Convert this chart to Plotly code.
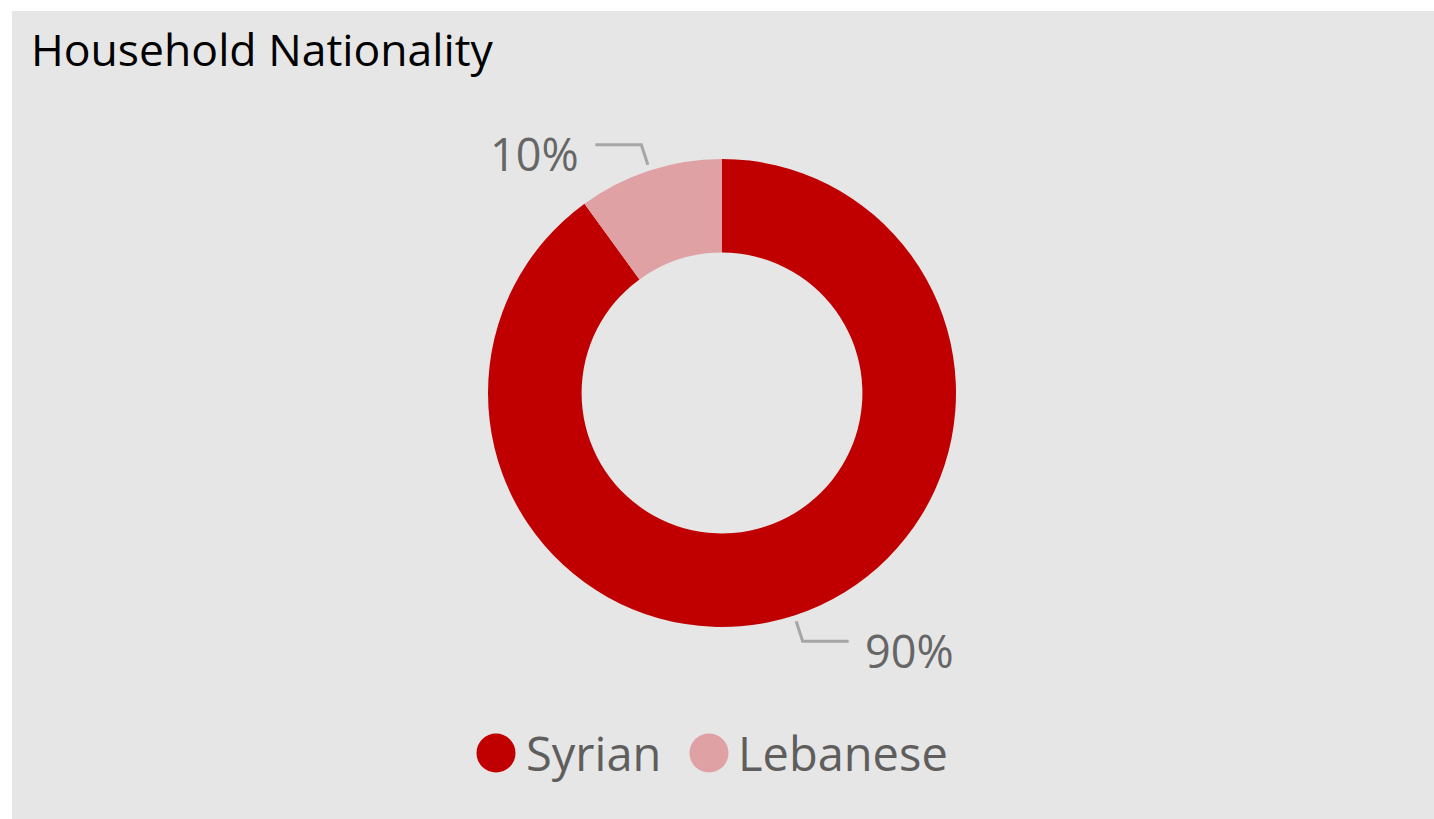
import math
import plotly.graph_objects as go

# Data
categories = ["Syrian", "Lebanese"]
shares = [90, 10]
colors = ["#c00000", "#e0a1a4"]

title_text = "Household Nationality"

W, H = 1434, 819
BG = "#e6e6e6"
FONT = "Open Sans, Noto Sans, sans-serif"

# Donut geometry in pixels
cx, cy, R = 722, 393, 234
hole = 0.6


def px(x):
    return x / W


def py(y):
    return 1 - y / H


fig = go.Figure()
fig.add_trace(go.Pie(
    labels=categories,
    values=shares,
    sort=False,
    direction="clockwise",
    rotation=0,
    hole=hole,
    marker=dict(colors=colors, line=dict(width=0)),
    textinfo="none",
    hoverinfo="label+percent",
    showlegend=False,
    domain=dict(x=[px(cx - R), px(cx + R)], y=[py(cy + R), py(cy - R)]),
))

shapes = []
annotations = []

# Leader lines and percentage labels placed at each slice's mid-angle
total = sum(shares)
start = 0.0
for name, v in zip(categories, shares):
    frac = v / total
    mid = (start + frac / 2) * 2 * math.pi
    start += frac
    s, c = math.sin(mid), math.cos(mid)
    side = 1 if s >= 0 else -1
    x0, y0 = cx + (R + 6) * s, cy - (R + 6) * c
    x1, y1 = cx + (R + 27) * s, cy - (R + 27) * c
    x2 = x1 + side * 46
    shapes.append(dict(
        type="path", xref="paper", yref="paper",
        path=f"M {px(x0)},{py(y0)} L {px(x1)},{py(y1)} L {px(x2)},{py(y1)}",
        line=dict(color="#a6a6a6", width=3),
    ))
    annotations.append(dict(
        x=px(x2 + side * 14), y=py(y1 + 9), xref="paper", yref="paper",
        text=f"{v}%", showarrow=False,
        xanchor="left" if side > 0 else "right", yanchor="middle",
        font=dict(family=FONT, size=45, color="#666666"),
    ))

# Legend with round markers
legend_y = 753
legend_items = [(496, 524), (709, 736)]
for (mx, tx), name, col in zip(legend_items, categories, colors):
    r = 19.5
    shapes.append(dict(
        type="circle", xref="paper", yref="paper",
        x0=px(mx - r), x1=px(mx + r), y0=py(legend_y + r), y1=py(legend_y - r),
        fillcolor=col, line=dict(width=0),
    ))
    annotations.append(dict(
        x=px(tx), y=py(legend_y), xref="paper", yref="paper",
        text=name, showarrow=False, xanchor="left", yanchor="middle",
        font=dict(family=FONT, size=47, color="#605e5c"),
    ))

# Title
annotations.append(dict(
    x=px(29), y=py(48), xref="paper", yref="paper",
    text=title_text, showarrow=False, xanchor="left", yanchor="middle",
    font=dict(family=FONT, size=44.5, color="#000000"),
))

# White page margin around the panel
shapes.append(dict(type="rect", xref="paper", yref="paper",
                   x0=0, x1=1, y0=py(11), y1=1,
                   fillcolor="white", line=dict(width=0)))
shapes.append(dict(type="rect", xref="paper", yref="paper",
                   x0=0, x1=px(12), y0=0, y1=1,
                   fillcolor="white", line=dict(width=0)))

fig.update_layout(
    width=W, height=H,
    margin=dict(l=0, r=0, t=0, b=0),
    paper_bgcolor=BG,
    plot_bgcolor=BG,
    shapes=shapes,
    annotations=annotations,
)

fig.write_html("out.html", config={"displayModeBar": False})
